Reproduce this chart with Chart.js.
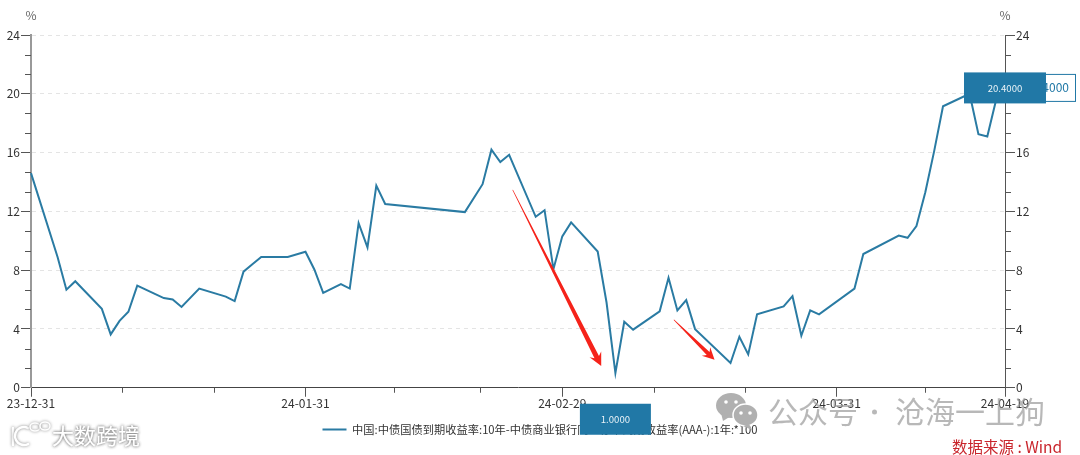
<!DOCTYPE html>
<html><head><meta charset="utf-8">
<style>html,body{margin:0;padding:0;background:#fff}canvas{display:block}</style>
<script src="https://cdn.jsdelivr.net/npm/chart.js@4"></script>
</head><body><canvas id="c" width="1080" height="455" style="width:1080px;height:455px"></canvas>
<script>
const FONT='"Noto Sans CJK SC","Open Sans",sans-serif';
const seriesName='中国:中债国债到期收益率:10年-中债商业银行同业存单到期收益率(AAA-):1年:*100';
const days=[0,3,4,5,8,9,10,11,12,15,16,17,19,22,23,24,25,26,29,31,32,33,35,36,37,38,39,40,49,51,52,53,54,57,58,59,60,61,64,65,66,67,68,71,72,73,74,75,79,80,81,82,85,86,87,88,89,93,94,98,99,100,101,102,103,106,107,108,109,110];
const values=[14.6,8.9,6.67,7.25,5.37,3.63,4.55,5.17,6.95,6.1,6.0,5.5,6.75,6.2,5.9,7.9,8.4,8.9,8.9,9.25,8.05,6.45,7.05,6.75,11.2,9.55,13.75,12.5,11.95,13.85,16.2,15.35,15.85,11.63,12.08,8.07,10.3,11.25,9.27,5.8,1.0,4.49,3.95,5.2,7.48,5.26,5.96,3.99,1.68,3.47,2.27,5.0,5.53,6.23,3.54,5.26,4.99,6.75,9.1,10.35,10.2,11.0,13.3,16.1,19.15,20.0,17.25,17.1,19.6,20.4];
const xLabelDays=[0,31,60,91,110];
const xLabels=['23-12-31','24-01-31','24-02-29','24-03-31','24-04-19'];
const xMinorDays=[10.33,20.67,41,50.67,70.33,80.67,101];
const yMajor=[0,4,8,12,16,20,24];
const yMinor=[1.33,2.67,5.33,6.67,9.33,10.67,13.33,14.67,17.33,18.67,21.33,22.67];
const arrows=[{from:[54.4,13.47],to:[64.4,1.48],head:13,half:6.5,tail:0.3,neck:5},{from:[72.6,4.63],to:[77.2,1.9],head:12,half:6,tail:0.3,neck:4}];
const BLUE='#2178a6',LINE='#2a7ba3',TXT='#333333';

function box(ctx,cx,cy,w,h,label){
  ctx.fillStyle=BLUE;ctx.fillRect(cx-w/2,cy-h/2,w,h);
  ctx.fillStyle='#e8f2f7';ctx.font='9.6px '+FONT;ctx.textAlign='center';ctx.textBaseline='middle';
  ctx.fillText(label,cx,cy);
}
const deco={id:'deco',
 afterDraw(chart){
  const {ctx,scales:{x,y}}=chart;
  ctx.save();
  ctx.strokeStyle='#555';ctx.lineWidth=1;ctx.beginPath();
  yMinor.forEach(v=>{const p=Math.round(y.getPixelForValue(v))+.5;
    ctx.moveTo(x.left-6,p);ctx.lineTo(x.left,p);ctx.moveTo(x.right,p);ctx.lineTo(x.right+6,p);});
  xMinorDays.forEach(d=>{const p=Math.round(x.getPixelForValue(d))+.5;ctx.moveTo(p,y.bottom);ctx.lineTo(p,y.bottom+5);});
  ctx.stroke();
  ctx.fillStyle='#666';ctx.font='12px '+FONT;ctx.textAlign='center';ctx.textBaseline='middle';
  ctx.fillText('%',x.left,15.5);ctx.fillText('%',x.right,15.5);
  ctx.fillStyle='#f5231a';
  arrows.forEach(a=>{
    const x0=x.getPixelForValue(a.from[0]),y0=y.getPixelForValue(a.from[1]),x1=x.getPixelForValue(a.to[0]),y1=y.getPixelForValue(a.to[1]);
    const L=Math.hypot(x1-x0,y1-y0),ux=(x1-x0)/L,uy=(y1-y0)/L,nx=-uy,ny=ux;
    const bx=x1-ux*a.head,by=y1-uy*a.head;
    ctx.beginPath();
    ctx.moveTo(x0+nx*a.tail,y0+ny*a.tail);
    ctx.lineTo(bx+ux*3+nx*a.neck/2,by+uy*3+ny*a.neck/2);
    ctx.lineTo(bx+nx*a.half,by+ny*a.half);
    ctx.lineTo(x1,y1);
    ctx.lineTo(bx-nx*a.half,by-ny*a.half);
    ctx.lineTo(bx+ux*3-nx*a.neck/2,by+uy*3-ny*a.neck/2);
    ctx.lineTo(x0-nx*a.tail,y0-ny*a.tail);
    ctx.closePath();ctx.fill();
  });
  const maxV=Math.max(...values),minV=Math.min(...values);
  const lastX=x.getPixelForValue(days[days.length-1]),maxY=y.getPixelForValue(maxV);
  ctx.fillStyle='#fff';ctx.strokeStyle=BLUE;ctx.lineWidth=1;
  ctx.fillRect(1040,maxY-14,35.5,28);ctx.strokeRect(1040.5,maxY-13.5,35,27);
  ctx.fillStyle=BLUE;ctx.font='12px '+FONT;ctx.textAlign='right';ctx.textBaseline='middle';ctx.fillText(maxV.toFixed(4),1069,maxY);
  box(ctx,lastX,maxY,82,31,maxV.toFixed(4));
  box(ctx,x.getPixelForValue(days[values.indexOf(minV)]),y.bottom+31.5,71,31,minV.toFixed(4));
  ctx.fillStyle='#c9252c';ctx.font='15.5px '+FONT;ctx.textAlign='left';ctx.textBaseline='middle';
  ctx.fillText('数据来源 : Wind',952,447);
  // wechat watermark
  ctx.fillStyle='rgba(150,150,150,.68)';ctx.font='30px "Noto Sans CJK SC",sans-serif';ctx.textAlign='left';
  ctx.fillText('公众号',768,412);ctx.fillText('沧海一上狗',895,412);
  ctx.beginPath();ctx.arc(874.5,412,2.5,0,7);ctx.fill();
  ctx.fillStyle='#b0b0b0';
  ctx.beginPath();ctx.ellipse(731,405.5,15,12.5,0,0,7);ctx.fill();
  ctx.beginPath();ctx.moveTo(721,413);ctx.lineTo(723,421);ctx.lineTo(731,416);ctx.fill();
  ctx.strokeStyle='#fff';ctx.lineWidth=1.5;
  ctx.beginPath();ctx.ellipse(745.5,415,12.5,11,0,0,7);ctx.fill();ctx.stroke();
  ctx.beginPath();ctx.moveTo(749,424);ctx.lineTo(752,430);ctx.lineTo(743,426);ctx.fill();
  ctx.fillStyle='#fff';[[726,402],[736,402],[741,413],[750,413]].forEach(p=>{ctx.beginPath();ctx.arc(p[0],p[1],1.8,0,7);ctx.fill();});
  // logo watermark
  ctx.shadowColor='rgba(120,120,120,.9)';ctx.shadowBlur=3;
  ctx.font='22px "Noto Sans CJK SC",sans-serif';ctx.textAlign='left';
  ctx.fillStyle='#fff';ctx.fillText('大数跨境',52,436);ctx.fillText('大数跨境',52,436);
  ctx.strokeStyle='#fff';ctx.lineWidth=2.5;ctx.lineCap='round';
  ctx.beginPath();ctx.moveTo(13,428);ctx.lineTo(13,445);ctx.stroke();
  ctx.beginPath();ctx.arc(24,436,9,1.1,5.2);ctx.stroke();
  ctx.lineWidth=1.5;
  [[35,427],[45,426]].forEach(p=>{ctx.beginPath();ctx.ellipse(p[0],p[1],5,4,0,0,7);ctx.stroke();});
  ctx.restore();
 }};
new Chart(document.getElementById('c'),{
 type:'line',
 data:{datasets:[{label:seriesName,data:days.map((d,i)=>({x:d,y:values[i]})),borderColor:LINE,backgroundColor:LINE,borderWidth:2,pointRadius:0,tension:0,borderJoinStyle:'miter',clip:false}]},
 options:{responsive:false,animation:false,devicePixelRatio:1,
  layout:{padding:{top:35,left:0,right:0,bottom:10}},
  plugins:{tooltip:{enabled:false},
   legend:{position:'bottom',labels:{usePointStyle:true,pointStyle:'line',pointStyleWidth:24,boxHeight:6,color:TXT,font:{size:11.25,family:FONT},padding:8}}},
  scales:{
   x:{type:'linear',min:0,max:110,
    afterBuildTicks(s){s.ticks=xLabelDays.map(v=>({value:v}));},
    afterFit(s){s.height=28;},
    ticks:{autoSkip:false,maxRotation:0,color:TXT,font:{size:12,family:FONT},padding:-1,callback(v){const i=xLabelDays.indexOf(v);return i<0?'':xLabels[i];}},
    grid:{drawOnChartArea:false,color:'#555',tickLength:9},border:{color:'#444',width:1}},
   y:{position:'left',min:0,max:24,
    afterBuildTicks(s){s.ticks=yMajor.map(v=>({value:v}));},
    afterFit(s){s.width=31;},
    ticks:{color:TXT,font:{size:12,family:FONT},padding:1},
    grid:{color:'#e4e4e4',tickColor:'#555',tickLength:10},border:{color:'#999',width:2,dash:[4,4]}},
   y2:{position:'right',min:0,max:24,
    afterBuildTicks(s){s.ticks=yMajor.map(v=>({value:v}));},
    afterFit(s){s.width=75;},
    ticks:{color:TXT,font:{size:12,family:FONT},padding:1},
    grid:{drawOnChartArea:false,color:'#555',tickLength:10},border:{color:'#555',width:1}}
  }},
 plugins:[deco]});
</script></body></html>
